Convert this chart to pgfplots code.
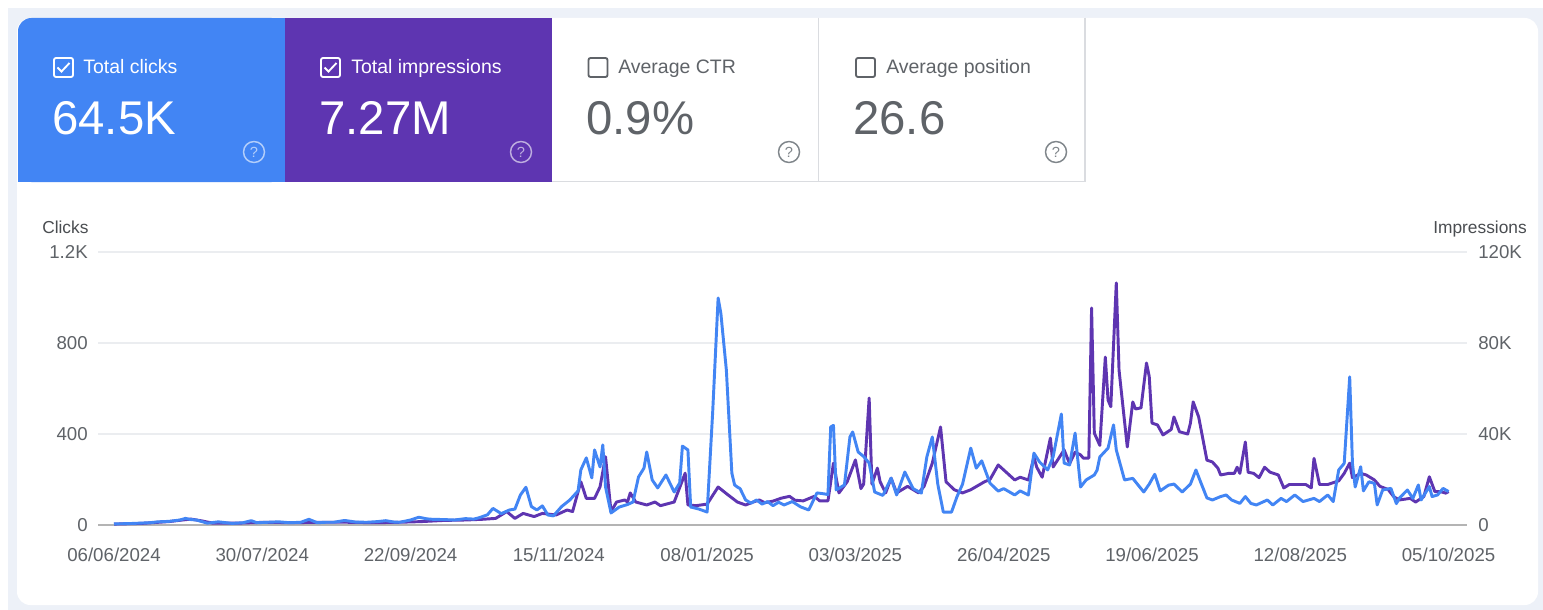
\documentclass[border=0pt]{standalone}
\usepackage{pgfplots}
\pgfplotsset{compat=1.18}
\usepackage{fontspec}
\setmainfont{Liberation Sans}
\definecolor{clickblue}{HTML}{4285F4}
\definecolor{implpurple}{HTML}{5E35B1}
\definecolor{gridgray}{HTML}{EBEDF0}
\definecolor{basegray}{HTML}{B4B4B4}
\definecolor{txtgray}{HTML}{5F6368}
\definecolor{ttlgray}{HTML}{4A4D51}
\definecolor{bgframe}{HTML}{EDF1F8}
\definecolor{cardborder}{HTML}{DADCE0}
\definecolor{iconGray}{HTML}{80868B}
\begin{document}
\begin{tikzpicture}
\begin{scope}[x=0.75pt,y=-0.75pt]
\fill[white] (0,0) rectangle (1543,610);
\fill[bgframe] (8,8) rectangle (1543,610);
\fill[white, rounded corners=10] (17,18) rectangle (1538,605);
% cards
\fill[clickblue, rounded corners=10] (18,18) rectangle (285,182);
\fill[clickblue] (30,18) rectangle (285,182);
\fill[clickblue] (18,30) rectangle (285,182);
\fill[implpurple] (285,18) rectangle (552,182);
\draw[cardborder, line width=1.2pt] (552,181.5) -- (1085,181.5);
\draw[cardborder, line width=1.2pt] (818.5,18) -- (818.5,182);
\draw[cardborder, line width=1.2pt] (1085,18) -- (1085,182);
% card 1
\draw[white, line width=1.4pt, rounded corners=1.5] (54,58) rectangle (73,77);
\draw[white, line width=1.4pt] (57.5,67.5) -- (61.5,71.5) -- (69.5,63);
\node[anchor=base west, inner sep=0, text=white, font=\fontsize{14.6}{16}\selectfont] at (83,74) {Total clicks};
\node[anchor=base west, inner sep=0, text=white, font=\fontsize{35.5}{40}\selectfont] at (52,134) {64.5K};
\draw[white, opacity=0.6, line width=1.1pt] (254,152) circle (10.5);
\node[text=white, opacity=0.6, font=\fontsize{11}{12}\selectfont] at (254,152) {?};
% card 2
\draw[white, line width=1.4pt, rounded corners=1.5] (321,58) rectangle (340,77);
\draw[white, line width=1.4pt] (324.5,67.5) -- (328.5,71.5) -- (336.5,63);
\node[anchor=base west, inner sep=0, text=white, font=\fontsize{14.6}{16}\selectfont] at (351,74) {Total impressions};
\node[anchor=base west, inner sep=0, text=white, font=\fontsize{35.5}{40}\selectfont] at (319,134) {7.27M};
\draw[white, opacity=0.6, line width=1.1pt] (521,152) circle (10.5);
\node[text=white, opacity=0.6, font=\fontsize{11}{12}\selectfont] at (521,152) {?};
% card 3
\draw[txtgray, line width=1.4pt, rounded corners=1.5] (588.5,58) rectangle (607.5,77);
\node[anchor=base west, inner sep=0, text=txtgray, font=\fontsize{14.6}{16}\selectfont] at (618,74) {Average CTR};
\node[anchor=base west, inner sep=0, text=txtgray, font=\fontsize{35.5}{40}\selectfont] at (586,134) {0.9\%};
\draw[iconGray, line width=1.1pt] (789,152) circle (10.5);
\node[text=iconGray, font=\fontsize{11}{12}\selectfont] at (789,152) {?};
% card 4
\draw[txtgray, line width=1.4pt, rounded corners=1.5] (856,58) rectangle (875,77);
\node[anchor=base west, inner sep=0, text=txtgray, font=\fontsize{14.6}{16}\selectfont] at (886,74) {Average position};
\node[anchor=base west, inner sep=0, text=txtgray, font=\fontsize{35.5}{40}\selectfont] at (853,134) {26.6};
\draw[iconGray, line width=1.1pt] (1056,152) circle (10.5);
\node[text=iconGray, font=\fontsize{11}{12}\selectfont] at (1056,152) {?};
% axis titles
\node[anchor=base west, inner sep=0, text=ttlgray, font=\fontsize{13}{15}\selectfont] at (42,233) {Clicks};
\node[anchor=base east, inner sep=0, text=ttlgray, font=\fontsize{13}{15}\selectfont] at (1527,233) {Impressions};
\end{scope}

\pgfplotsset{
  commonax/.style={
    at={(73.5pt,-393.75pt)}, anchor=south west,
    scale only axis, width=1026.75pt, height=204.75pt,
    xmin=-5.83, xmax=492.72, ymin=0,
    major tick length=0pt,
    ticklabel style={font=\fontsize{14}{16}\selectfont, text=txtgray, inner sep=0pt},
    /pgf/number format/assume math mode=true,
    scaled y ticks=false,
  }
}

\begin{axis}[commonax,
  ymax=120000,
  axis x line*=bottom, axis y line*=right,
  x axis line style={draw=basegray, line width=1.4pt, -},
  y axis line style={draw=none},
  ytick={0,40000,80000,120000},
  yticklabels={0,40K,80K,120K},
  yticklabel style={anchor=west, xshift=8.25pt},
  ymajorgrids, grid style={draw=gridgray, line width=1.3pt},
  xtick={0,54,108,162,216,270,324,378,432,486},
  xticklabels={06/06/2024,30/07/2024,22/09/2024,15/11/2024,08/01/2025,03/03/2025,26/04/2025,19/06/2025,12/08/2025,05/10/2025},
  xticklabel style={anchor=base, yshift=-27pt},
]
\addplot[implpurple, line width=2.2pt, line join=round, mark=none] coordinates {
(0,400) (10,700) (20,1500) (25,2200) (28,2600) (32,1800) (36,800) (45,800) (55,1200) (65,1000) (75,1200) (85,1200) (95,1000) (104,1200) (112,1500) (120,2000) (128,2200) (134,2500) (139,2900) (143,5900) (146,2900) (149,5100) (153,3700) (156,5100) (161,4400) (165,6600) (167,5900) (170,19000) (172,11700) (175,11700) (177,16800) (179,30000) (181,5900) (183,10100) (186,11000) (187,10100) (188,14100) (190,10100) (194,8800) (197,10100) (199,8500) (204,10100) (208,22800) (209,8800) (212,8500) (216,9200) (220,16700) (223,13800) (227,10100) (230,8800) (233,10200) (235,11000) (237,9800) (240,10500) (243,11800) (246,12600) (248,10900) (251,10600) (255,12600) (257,10600) (260,10600) (262,27200) (264,14100) (267,19000) (270,28600) (272,16000) (273,18000) (275,55800) (276,18000) (278,25000) (279,19000) (281,14100) (283,20600) (285,14100) (289,17000) (293,14100) (295,17000) (298,27200) (301,43100) (303,19000) (306,15500) (309,14100) (312,15500) (317,19000) (319,20000) (322,26400) (325,23100) (328,19800) (330,21000) (333,19800) (335,29900) (336,25500) (338,21000) (341,38200) (342,25500) (346,33000) (348,27000) (350,32000) (352,30800) (353,29400) (355,29400) (356,95400) (357,40400) (359,35000) (361,73800) (362,54900) (363,52000) (365,106400) (366,68100) (369,34300) (371,54100) (372,51000) (374,51500) (376,71200) (377,65200) (378,44800) (380,44000) (382,39600) (385,42000) (386,47500) (388,41000) (391,40000) (392,44800) (393,54100) (395,47500) (398,28500) (400,27700) (402,25000) (403,22000) (406,22700) (408,22700) (409,25400) (410,22700) (412,36500) (413,23200) (415,22700) (417,20800) (419,25400) (421,23200) (424,22000) (426,16300) (428,17800) (431,17800) (434,17800) (436,16300) (437,29300) (439,17800) (442,17800) (446,19400) (448,22700) (450,27200) (451,20800) (454,22700) (456,22000) (459,19800) (461,17000) (464,15600) (466,12500) (468,11000) (472,11700) (474,10100) (477,12500) (479,21200) (481,14700) (483,14700) (485,14000) (486,14700)
};
\end{axis}

\begin{axis}[commonax,
  ymax=1200,
  axis x line*=bottom, axis y line*=left,
  x axis line style={draw=none}, y axis line style={draw=none},
  xtick=\empty,
  ytick={0,400,800,1200},
  yticklabels={0,400,800,1.2K},
  yticklabel style={anchor=east, xshift=-7.5pt},
]
\addplot[clickblue, line width=2.2pt, line join=round, mark=none] coordinates {
(0,5) (5,6) (9,8) (13,10) (16,14) (20,16) (24,22) (26,29) (28,24) (30,22) (34,8) (38,14) (43,7) (47,10) (50,19) (52,10) (56,12) (60,14) (64,10) (68,12) (71,25) (74,10) (77,12) (80,12) (84,20) (88,13) (92,12) (96,15) (99,19) (102,13) (104,12) (108,22) (111,34) (114,27) (116,25) (120,24) (124,22) (128,28) (131,26) (133,32) (136,45) (138,73) (141,50) (144,66) (146,70) (148,132) (150,166) (152,81) (154,66) (156,84) (158,44) (160,40) (163,81) (166,110) (169,150) (170,242) (172,295) (174,207) (175,330) (177,255) (178,352) (179,167) (181,53) (184,79) (187,90) (189,101) (191,211) (193,250) (194,321) (196,198) (198,163) (201,220) (204,145) (206,185) (207,347) (209,330) (210,79) (213,70) (216,57) (218,492) (220,998) (221,930) (223,681) (225,228) (226,176) (227,167) (228,160) (230,110) (232,96) (234,110) (236,92) (238,103) (240,85) (242,100) (244,88) (247,103) (250,80) (253,66) (256,141) (258,138) (260,134) (261,431) (262,438) (263,154) (266,176) (268,387) (269,409) (271,321) (273,301) (275,272) (277,145) (280,130) (283,206) (285,132) (288,233) (291,160) (294,140) (296,299) (298,387) (300,179) (302,57) (305,57) (307,125) (309,179) (312,338) (314,250) (316,282) (319,184) (322,149) (324,160) (328,132) (330,150) (333,132) (335,316) (337,278) (340,242) (342,300) (345,488) (346,272) (348,264) (350,404) (352,167) (354,198) (357,220) (358,241) (359,299) (362,338) (364,440) (365,330) (368,198) (371,205) (375,145) (377,180) (379,223) (381,150) (384,175) (386,180) (389,145) (392,180) (394,242) (396,180) (398,119) (400,110) (403,125) (405,132) (407,110) (410,95) (412,125) (414,95) (416,88) (420,110) (422,88) (425,117) (427,103) (430,132) (433,103) (437,117) (439,103) (442,132) (444,103) (446,242) (448,271) (450,651) (451,271) (452,167) (454,256) (455,150) (457,190) (459,183) (460,88) (462,154) (465,161) (467,94) (468,117) (471,154) (473,117) (475,176) (476,110) (479,169) (480,125) (482,132) (484,161) (486,147)
};
\end{axis}
\pgfresetboundingbox
\path[use as bounding box] (0,0) rectangle (1157.25pt,-457.5pt);
\end{tikzpicture}
\end{document}
